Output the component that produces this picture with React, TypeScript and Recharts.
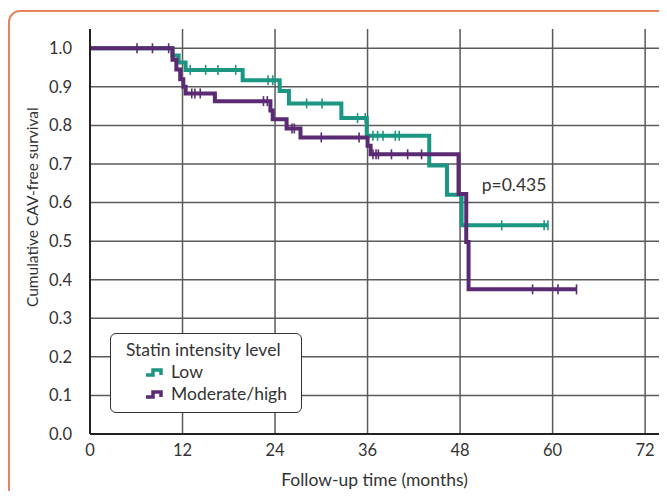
import {
  ComposedChart,
  Line,
  Scatter,
  XAxis,
  YAxis,
  CartesianGrid,
  ReferenceDot,
} from 'recharts'

// step points (time in months, survival)
const lowTimes = [0, 10.7, 11.5, 12.4, 19.8, 24.6, 25.8, 32.6, 35.9, 44.0, 46.3, 48.2, 59.4]
const lowSurv = [1, 0.981, 0.963, 0.944, 0.917, 0.889, 0.857, 0.819, 0.773, 0.696, 0.62, 0.541, 0.541]
const lowCensored = [13.0, 15.0, 16.6, 18.9, 23.1, 23.7, 28.1, 30.1, 34.7, 35.7, 36.7, 37.3, 38.0, 39.6, 40.1, 53.4, 58.9, 59.4]

const modTimes = [0, 10.7, 11.2, 11.7, 12.1, 12.4, 16.2, 23.4, 23.7, 25.5, 27.3, 36.0, 36.4, 47.8, 48.8, 49.1, 63.1]
const modSurv = [1, 0.97, 0.945, 0.92, 0.9, 0.883, 0.863, 0.839, 0.816, 0.792, 0.769, 0.747, 0.725, 0.622, 0.498, 0.375, 0.375]
const modCensored = [6.1, 8.1, 10.2, 13.2, 13.6, 14.3, 22.5, 23.0, 26.2, 26.5, 30.0, 34.9, 36.7, 37.1, 37.4, 39.1, 41.2, 43.0, 57.4, 60.7, 63.1]

const xTicks = [0, 12, 24, 36, 48, 60, 72]
const yTicks = [0, 0.1, 0.2, 0.3, 0.4, 0.5, 0.6, 0.7, 0.8, 0.9, 1.0]

const TEAL = '#1b9682'
const PURPLE = '#5a2b72'
const FONT = 'Lato, sans-serif'

const toSteps = (times: number[], surv: number[]) => times.map((t, i) => ({ t, s: surv[i] }))

// survival value at a censoring time
const censorPoints = (censored: number[], times: number[], surv: number[]) =>
  censored.map((t) => {
    let s = surv[0]
    times.forEach((tt, i) => {
      if (tt <= t) s = surv[i]
    })
    return { t, s }
  })

const lowData = toSteps(lowTimes, lowSurv)
const modData = toSteps(modTimes, modSurv)
const lowCens = censorPoints(lowCensored, lowTimes, lowSurv)
const modCens = censorPoints(modCensored, modTimes, modSurv)

function tickMark(color: string) {
  return (p: any) => (
    <line x1={p.cx} x2={p.cx} y1={p.cy - 5} y2={p.cy + 5} stroke={color} strokeWidth={1.6} />
  )
}

function YLabel(props: any) {
  const vb = props.viewBox || { x: 0, y: 29, width: 90, height: 405 }
  const x = vb.x + 32
  const y = vb.y + vb.height * 0.44
  return (
    <text x={x} y={y} transform={`rotate(-90 ${x} ${y})`} textAnchor="middle" dominantBaseline="central" fill="#333" fontSize={15.5} fontFamily={FONT}>
      Cumulative CAV-free survival
    </text>
  )
}

function StepIcon({ color }: { color: string }) {
  return (
    <svg width={18} height={10} style={{ marginRight: 8 }}>
      <path d="M1,8 H8 V3 H16 V8" fill="none" stroke={color} strokeWidth={3.5} />
    </svg>
  )
}

function KMLegend() {
  return (
    <div
      style={{
        position: 'absolute',
        left: 110,
        top: 333,
        width: 192,
        height: 80,
        boxSizing: 'border-box',
        border: '1.5px solid #333',
        borderRadius: 6,
        background: '#fff',
        fontFamily: FONT,
        fontSize: 17.5,
        color: '#333',
        padding: '5px 0 0 15px',
        lineHeight: '22px',
      }}
    >
      <div>Statin intensity level</div>
      <div style={{ display: 'flex', alignItems: 'center', paddingLeft: 19 }}>
        <StepIcon color={TEAL} />
        Low
      </div>
      <div style={{ display: 'flex', alignItems: 'center', paddingLeft: 19 }}>
        <StepIcon color={PURPLE} />
        Moderate/high
      </div>
    </div>
  )
}

export default function App() {
  return (
    <div style={{ position: 'relative', width: 667, height: 499, margin: -8, overflow: 'hidden', background: '#fff' }}>
      <div
        style={{
          position: 'absolute',
          left: 8,
          top: 10,
          width: 700,
          height: 520,
          border: '2px solid #e8845c',
          borderRadius: 12,
          boxSizing: 'border-box',
        }}
      />
      <div style={{ position: 'absolute', left: 0, top: 0 }}>
        <ComposedChart width={667} height={499} margin={{ top: 29, right: 8, left: 0, bottom: 0 }}>
          <CartesianGrid stroke="#5a5a5a" strokeWidth={1.5} horizontalValues={yTicks} verticalValues={xTicks} />
          <XAxis
            dataKey="t"
            type="number"
            domain={[0, 73.8]}
            ticks={xTicks}
            allowDataOverflow
            tickLine={false}
            axisLine={{ stroke: '#222', strokeWidth: 2 }}
            tick={{ fill: '#333', fontSize: 16.5, fontFamily: FONT }}
            height={65}
            tickMargin={4}
            label={{ value: 'Follow-up time (months)', position: 'insideBottom', offset: 13, fill: '#333', fontSize: 17.5, fontFamily: FONT }}
          />
          <YAxis
            type="number"
            domain={[0, 1.05]}
            ticks={yTicks}
            allowDataOverflow
            tickFormatter={(v: number) => v.toFixed(1)}
            tickLine={false}
            axisLine={{ stroke: '#222', strokeWidth: 2 }}
            tick={{ fill: '#333', fontSize: 16.5, fontFamily: FONT }}
            width={90}
            tickMargin={12}
            label={<YLabel />}
          />
          <Line data={lowData} dataKey="s" type="stepAfter" stroke={TEAL} strokeWidth={4} dot={false} isAnimationActive={false} />
          <Line data={modData} dataKey="s" type="stepAfter" stroke={PURPLE} strokeWidth={4} dot={false} isAnimationActive={false} />
          <Scatter data={lowCens} dataKey="s" shape={tickMark(TEAL)} isAnimationActive={false} />
          <Scatter data={modCens} dataKey="s" shape={tickMark(PURPLE)} isAnimationActive={false} />
          <ReferenceDot
            x={55}
            y={0.645}
            r={0}
            fill="none"
            stroke="none"
            label={{ value: 'p=0.435', position: 'center', fill: '#333', fontSize: 17.5, fontFamily: FONT }}
          />
        </ComposedChart>
      </div>
      <KMLegend />
    </div>
  )
}
